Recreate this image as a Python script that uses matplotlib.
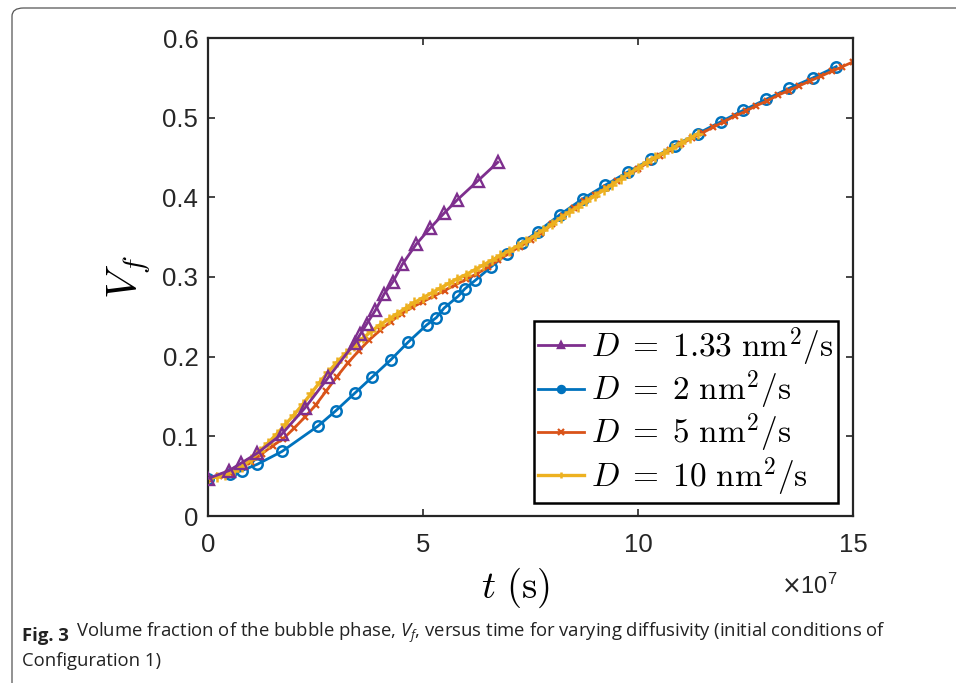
import numpy as np
import matplotlib
matplotlib.use('Agg')
import matplotlib.pyplot as plt
from matplotlib.patches import FancyBboxPatch

# time in units of 1e7 s, volume fraction Vf
t_133 = [0, 0.49, 0.76, 1.15, 1.72, 2.26, 2.80, 3.41, 3.54, 3.69, 3.89, 4.10,
         4.30, 4.52, 4.84, 5.16, 5.49, 5.80, 6.28, 6.74]
v_133 = [0.047, 0.057, 0.066, 0.079, 0.103, 0.136, 0.174, 0.217, 0.228, 0.241,
         0.258, 0.279, 0.294, 0.316, 0.341, 0.361, 0.380, 0.397, 0.421, 0.444]

t_2 = [0, 0.51, 0.79, 1.15, 1.72, 2.56, 2.97, 3.41, 3.81, 4.25, 4.65, 5.09,
       5.31, 5.49, 5.82, 5.97, 6.22, 6.59, 6.95, 7.30, 7.67, 8.18, 8.71, 9.23,
       9.77, 10.31, 10.85, 11.39, 11.93, 12.44, 12.98, 13.52, 14.07, 14.61]
v_2 = [0.047, 0.053, 0.057, 0.065, 0.081, 0.113, 0.132, 0.154, 0.174, 0.196,
       0.218, 0.240, 0.249, 0.261, 0.276, 0.285, 0.296, 0.313, 0.329, 0.343,
       0.357, 0.378, 0.398, 0.415, 0.432, 0.448, 0.465, 0.480, 0.495, 0.509,
       0.523, 0.537, 0.550, 0.564]

t_5 = [0, 0.25, 0.5, 0.75, 1.0, 1.25, 1.5, 1.75, 2.0, 2.25, 2.5, 2.75, 3.0,
       3.25, 3.5, 3.75, 4.0, 4.25, 4.5, 4.75, 5.0, 5.25, 5.5, 5.75, 6.0, 6.25,
       6.5, 6.75, 7.0, 7.25, 7.5, 7.75, 8.0, 8.25, 8.5, 8.75, 9.0, 9.25, 9.5,
       9.75, 10.0, 10.25, 10.5, 10.75, 11.0, 11.25, 11.5, 11.75, 12.0, 12.25,
       12.5, 12.75, 13.0, 13.25, 13.5, 13.75, 14.0, 14.25, 14.5, 14.75, 15.0]
v_5 = [0.047, 0.050, 0.054, 0.060, 0.068, 0.078, 0.088, 0.097, 0.110, 0.124,
       0.139, 0.157, 0.175, 0.192, 0.207, 0.221, 0.233, 0.244, 0.254, 0.262,
       0.269, 0.276, 0.283, 0.290, 0.297, 0.304, 0.312, 0.321, 0.330, 0.338,
       0.346, 0.355, 0.366, 0.377, 0.386, 0.395, 0.403, 0.412, 0.420, 0.428,
       0.436, 0.444, 0.452, 0.459, 0.467, 0.474, 0.481, 0.488, 0.495, 0.502,
       0.508, 0.515, 0.521, 0.528, 0.534, 0.540, 0.546, 0.552, 0.558, 0.564,
       0.570]

t_10 = [0, 0.2, 0.4, 0.6, 0.8, 1.0, 1.2, 1.4, 1.6, 1.8, 2.0, 2.2, 2.4, 2.6,
        2.8, 3.0, 3.2, 3.4, 3.6, 3.8, 4.0, 4.2, 4.4, 4.6, 4.8, 5.0, 5.2, 5.4,
        5.6, 5.8, 6.0, 6.2, 6.4, 6.6, 6.8, 7.0, 7.2, 7.4, 7.6, 7.8, 8.0, 8.2,
        8.4, 8.6, 8.8, 9.0, 9.2, 9.4, 9.6, 9.8, 10.0, 10.2, 10.4, 10.6, 10.8,
        11.0, 11.2, 11.4]
v_10 = [0.047, 0.049, 0.052, 0.056, 0.062, 0.071, 0.081, 0.092, 0.103, 0.115,
        0.127, 0.140, 0.154, 0.168, 0.181, 0.193, 0.204, 0.214, 0.223, 0.232,
        0.240, 0.247, 0.254, 0.261, 0.268, 0.274, 0.280, 0.286, 0.292, 0.298,
        0.303, 0.309, 0.315, 0.321, 0.327, 0.333, 0.339, 0.345, 0.352, 0.359,
        0.366, 0.374, 0.381, 0.388, 0.395, 0.402, 0.409, 0.416, 0.423, 0.430,
        0.437, 0.444, 0.450, 0.456, 0.462, 0.468, 0.474, 0.480]

labels = [r'$D\;=\;1.33\ \mathrm{nm}^2/\mathrm{s}$',
          r'$D\;=\;2\ \mathrm{nm}^2/\mathrm{s}$',
          r'$D\;=\;5\ \mathrm{nm}^2/\mathrm{s}$',
          r'$D\;=\;10\ \mathrm{nm}^2/\mathrm{s}$']

plt.rcParams['mathtext.fontset'] = 'cm'
plt.rcParams['mathtext.it'] = 'Open Sans:italic'
plt.rcParams['mathtext.rm'] = 'Open Sans'
plt.rcParams['font.family'] = ['Liberation Sans', 'DejaVu Sans']

W, H = 956, 683
fig = plt.figure(figsize=(W / 100, H / 100), dpi=100)
ax = fig.add_axes([208 / W, 1 - 516 / H, 645 / W, 478 / H])

dark = '#262626'
ax.plot(t_133, v_133, '-^', color='#7E2F8E', lw=2.0, ms=8.5, mfc='none',
        mew=1.7, label=labels[0], zorder=4)
ax.plot(t_2, v_2, '-o', color='#0072BD', lw=2.0, ms=7.5, mfc='none',
        mew=1.8, label=labels[1])
ax.plot(t_5, v_5, '-x', color='#D95319', lw=2.0, ms=5, mew=1.6,
        label=labels[2])
ax.plot(t_10, v_10, '-+', color='#EDB120', lw=2.4, ms=7, mew=1.8,
        label=labels[3])

ax.set_xlim(0, 15)
ax.set_ylim(0, 0.6)
ax.set_xticks([0, 5, 10, 15])
ax.set_yticks([0, 0.1, 0.2, 0.3, 0.4, 0.5, 0.6])
ax.set_yticklabels(['0', '0.1', '0.2', '0.3', '0.4', '0.5', '0.6'])
ax.tick_params(direction='in', top=True, right=True, length=5, width=1.2,
               colors=dark, labelsize=18.5)
ax.tick_params(axis='x', pad=12)
ax.tick_params(axis='y', pad=7)
for s in ax.spines.values():
    s.set_linewidth(1.6)
    s.set_color(dark)

ax.set_xlabel(r'$t\ (\mathrm{s})$', fontsize=28, va='center')
ax.xaxis.set_label_coords(0.4775, -0.151)
ax.set_ylabel(r'$V_f$', fontsize=31, va='center')
ax.yaxis.set_label_coords(-0.122, 0.5)
ax.text(0.977, -0.163, r'$\times\mathregular{10^{7}}$', transform=ax.transAxes,
        ha='right', va='baseline', fontsize=17, color=dark,
        math_fontfamily='dejavusans')

leg = ax.legend(loc='lower right', bbox_to_anchor=(0.976, 0.028),
                borderaxespad=0, fontsize=24, labelspacing=0.0,
                handlelength=1.4, handletextpad=0.2, borderpad=0.12,
                fancybox=False, framealpha=1, edgecolor='black')
leg.get_frame().set_linewidth(1.8)
for h in leg.legend_handles:
    h.set_markersize(5)
    h.set_markerfacecolor(h.get_color())

# figure frame and caption
fig.patches.append(FancyBboxPatch((12 / W, -0.2), 1.2, 1 - 8 / H + 0.2,
                                  boxstyle='round,pad=0,rounding_size=0.012',
                                  transform=fig.transFigure, fc='none',
                                  ec='#555555', lw=0.9))
cap_font = ['Open Sans', 'DejaVu Sans']
t1 = fig.text(22 / W, 1 - 641 / H, 'Fig. 3', fontsize=13.3, weight='bold',
              family=cap_font, va='baseline', color='#222222')
ax.annotate('Volume fraction of the bubble phase, $V_f$, versus time for '
            'varying diffusivity (initial conditions of',
            xy=(1, 0), xycoords=t1, xytext=(5, 0), textcoords='offset points',
            va='bottom', fontsize=13.3, family=cap_font, color='#222222',
            math_fontfamily='custom')
fig.text(22 / W, 1 - 666 / H, 'Configuration 1)', fontsize=13.3,
         family=cap_font, va='baseline', color='#222222')

fig.savefig('out.png', dpi=100)
